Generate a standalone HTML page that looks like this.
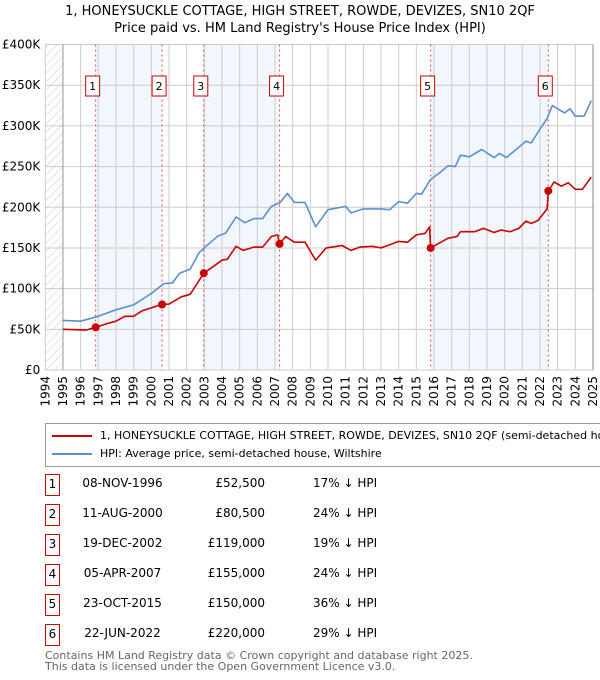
<!DOCTYPE html>
<html><head><meta charset="utf-8"><style>
body{margin:0;background:#fff;font-family:"DejaVu Sans","Liberation Sans",sans-serif;}
#wrap{position:relative;width:600px;height:680px;overflow:hidden;}
.t{position:absolute;font-size:12px;color:#000;white-space:nowrap;}
</style></head><body>
<div id="wrap">
<div class="t" style="left:0;width:600px;text-align:center;top:3px;font-size:13px;line-height:17px;">1, HONEYSUCKLE COTTAGE, HIGH STREET, ROWDE, DEVIZES, SN10 2QF<br>Price paid vs. HM Land Registry's House Price Index (HPI)</div>
<svg id="chart" width="600" height="420" style="position:absolute;left:0;top:0" font-family="DejaVu Sans, Liberation Sans, sans-serif"></svg>
<div style="position:absolute;left:45px;top:423px;width:570px;height:42px;border:1px solid #999;">
  <div style="position:absolute;left:6px;top:5px;font-size:11px;white-space:nowrap;"><span style="display:inline-block;width:40px;height:2px;background:#cc0000;vertical-align:middle;margin-right:8px"></span>1, HONEYSUCKLE COTTAGE, HIGH STREET, ROWDE, DEVIZES, SN10 2QF (semi-detached house)</div>
  <div style="position:absolute;left:6px;top:23px;font-size:11px;white-space:nowrap;"><span style="display:inline-block;width:40px;height:2px;background:#5b8fd4;vertical-align:middle;margin-right:8px"></span>HPI: Average price, semi-detached house, Wiltshire</div>
</div>
<div id="table"></div>
<div class="t" style="left:45px;top:650px;font-size:11px;color:#666;line-height:11px;">Contains HM Land Registry data © Crown copyright and database right 2025.<br>This data is licensed under the Open Government Licence v3.0.</div>
</div>
<script>
const hpiYears=[1995,1996,1997,1998,1999,2000,2000.7,2001.2,2001.6,2002.2,2002.7,2003.2,2003.8,2004.2,2004.8,2005.3,2005.8,2006.3,2006.8,2007.3,2007.7,2008.1,2008.7,2009.3,2010,2011,2011.3,2012,2013,2013.5,2014,2014.5,2015,2015.3,2015.8,2016.3,2016.8,2017.2,2017.5,2018,2018.7,2019.4,2019.7,2020.1,2020.7,2021.2,2021.5,2022,2022.4,2022.7,2023,2023.4,2023.7,2024,2024.5,2024.9];
const hpiValues=[61,60,66,74,80,94,106,107,119,124,144,154,165,168,188,181,186,186,201,206,217,206,206,176,197,201,193,198,198,197,207,205,217,216,234,242,251,250,264,262,271,261,266,261,272,281,279,296,309,325,321,316,321,312,312,331];
const ppYears=[1995,1996.3,1996.85,1997.5,1998,1998.5,1999,1999.5,2000.6,2001,2001.7,2002.2,2002.97,2003.5,2004,2004.3,2004.8,2005.2,2005.8,2006.3,2006.8,2007.15,2007.26,2007.6,2008.1,2008.7,2009.3,2009.9,2010.5,2010.8,2011.3,2011.8,2012.5,2013,2013.5,2014,2014.5,2015,2015.5,2015.75,2015.81,2016.3,2016.8,2017.3,2017.5,2018.3,2018.8,2019.4,2019.8,2020.3,2020.8,2021.2,2021.5,2021.9,2022.4,2022.47,2022.8,2023.2,2023.6,2024,2024.4,2024.9];
const ppValues=[50,49,52.5,57,60,66,66,73,80.5,81,90,93,119,127,135,136,152,147,151,151,164,166,155,164,157,157,135,150,152,153,147,151,152,150,154,158,157,166,168,176,150,156,162,164,170,170,174,169,172,170,174,183,180,184,198,220,231,226,230,222,222,237];
const saleYears=[1996.85,2000.61,2002.97,2007.26,2015.81,2022.47];
const salePrices=[52.5,80.5,119,155,150,220];
const saleLabels=["1","2","3","4","5","6"];
const saleDates=["08-NOV-1996","11-AUG-2000","19-DEC-2002","05-APR-2007","23-OCT-2015","22-JUN-2022"];
const salePriceText=["£52,500","£80,500","£119,000","£155,000","£150,000","£220,000"];
const saleHpiText=["17% ↓ HPI","24% ↓ HPI","19% ↓ HPI","24% ↓ HPI","36% ↓ HPI","29% ↓ HPI"];
const yTicks=[0,50,100,150,200,250,300,350,400];
const yTickLabels=["£0","£50K","£100K","£150K","£200K","£250K","£300K","£350K","£400K"];
const xTicks=[1994,1995,1996,1997,1998,1999,2000,2001,2002,2003,2004,2005,2006,2007,2008,2009,2010,2011,2012,2013,2014,2015,2016,2017,2018,2019,2020,2021,2022,2023,2024,2025];

const NS="http://www.w3.org/2000/svg";
const svg=document.getElementById('chart');
const X0=45.3,X1=593,Y0=370,Y1=44.5;
const xs=y=>X0+(y-1994)/(2025-1994)*(X1-X0);
const ys=v=>Y0-v/400*(Y0-Y1);
function mk(tag,attrs,parent){const e=document.createElementNS(NS,tag);for(const k in attrs)e.setAttribute(k,attrs[k]);(parent||svg).appendChild(e);return e;}
const defs=mk('defs',{});
const pat=mk('pattern',{id:'hatch',width:6,height:6,patternUnits:'userSpaceOnUse',patternTransform:'rotate(45)'},defs);
mk('line',{x1:0,y1:0,x2:0,y2:6,stroke:'#ccc','stroke-width':1},pat);
let r=mk('rect',{x:X0,y:Y1,width:xs(1995)-X0,height:Y0-Y1,fill:'url(#hatch)'});


for(let i=0;i<saleYears.length;i+=2){
  const a=saleYears[i],b=i+1<saleYears.length?saleYears[i+1]:2025;
  const s=mk('rect',{x:xs(a),y:Y1,width:xs(b)-xs(a),height:Y0-Y1,fill:'#f2f6fd'});
  
  
}
xTicks.forEach(t=>{
  const l=mk('line',{x1:xs(t),y1:Y1,x2:xs(t),y2:Y0,stroke:'#ccc','stroke-width':1});
  
  
  const tx=mk('text',{x:0,y:0,'font-size':12,'text-anchor':'end',transform:`translate(${xs(t)+4},${Y0+6}) rotate(-90)`});
  tx.textContent=t;
  
  
});
yTicks.forEach((t,i)=>{
  const l=mk('line',{x1:X0,y1:ys(t),x2:X1,y2:ys(t),stroke:'#ccc','stroke-width':1});
  
  
  const tx=mk('text',{x:X0-5,y:ys(t)+4,'font-size':12,'text-anchor':'end'});
  tx.textContent=yTickLabels[i];
  
  
});
mk('line',{x1:xs(1995),y1:Y1,x2:xs(1995),y2:Y0,stroke:'#999','stroke-width':1});
mk('line',{x1:X1,y1:Y1,x2:X1,y2:Y0,stroke:'#888','stroke-width':1});
saleYears.forEach((y,i)=>{
  const l=mk('line',{x1:xs(y),y1:Y1,x2:xs(y),y2:Y0,stroke:'#e05050','stroke-width':1,'stroke-dasharray':'2,3'});
  
  
  const bx=mk('rect',{x:xs(y)-10,y:76,width:14,height:20,fill:'#fff',stroke:'#cc0000','stroke-width':1});
  
  
  const tx=mk('text',{x:xs(y)-3,y:90,'font-size':11,'text-anchor':'middle'});
  tx.textContent=saleLabels[i];
});
function path(xa,va,color,name){
  const d=xa.map((x,i)=>(i?'L':'M')+xs(x).toFixed(1)+','+ys(va[i]).toFixed(1)).join('');
  const p=mk('path',{d:d,fill:'none',stroke:color,'stroke-width':1.6,'stroke-linejoin':'round'});
  
  
}
path(hpiYears,hpiValues,'#5b8fd4','hpi-line');
path(ppYears,ppValues,'#cc0000','price-paid-line');
saleYears.forEach((y,i)=>{
  const c=mk('circle',{cx:xs(y),cy:ys(salePrices[i]),r:4,fill:'#cc0000'});
  
  
});
const tb=document.getElementById('table');
saleLabels.forEach((lab,i)=>{
  const top=484+i*30;
  const row=document.createElement('div');
  
  
  row.innerHTML=`<div style="position:absolute;left:45px;top:${top-10}px;width:13px;height:20px;border:1px solid #cc0000;font-size:12px;text-align:center;line-height:19px">${lab}</div>`+
  `<div class="t" style="left:70px;width:105px;text-align:center;top:${top-8}px">${saleDates[i]}</div>`+
  `<div class="t" style="left:180px;width:85px;text-align:right;top:${top-8}px">${salePriceText[i]}</div>`+
  `<div class="t" style="left:313px;top:${top-8}px">${saleHpiText[i]}</div>`;
  tb.appendChild(row);
});
</script>
</body></html>
